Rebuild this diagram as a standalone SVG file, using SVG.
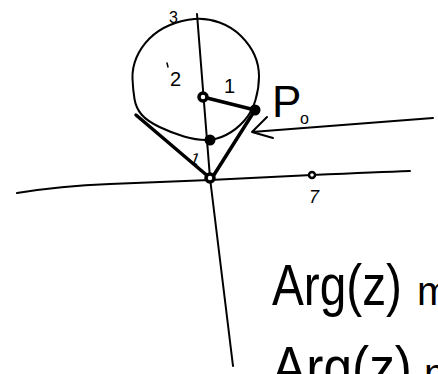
<svg xmlns="http://www.w3.org/2000/svg" width="438" height="374" viewBox="0 0 438 374">
<style>
.ln{fill:none;stroke:#000;stroke-width:2;stroke-linecap:round;stroke-linejoin:round}
.thk{fill:none;stroke:#000;stroke-width:3.5;stroke-linecap:round}
.t{font-family:"Liberation Sans",Arial,sans-serif;fill:#000}
.ring{fill:#fff;stroke:#000;stroke-width:3.5}
.dot{fill:#000}
</style>
<rect width="438" height="374" fill="#fff"/>
<g id="axes">
<path class="ln" d="M17,193 Q60,186 110,184 L210,180 L312,175 Q380,172 410,171"/>
<path class="ln" d="M197,14 L210,178 L233,366"/>
</g>
<g id="circle">
<path class="ln" d="M255.5,100 Q259,88 259,76.5 Q259,65 254.5,55 Q250,45 241,36 Q232,27 219.5,22.5 Q207,18 194.5,19 Q182,20 170,25 Q158,30 149.5,38.5 Q141,47 136.5,57.5 Q132,68 132.5,79 Q133,90 134.5,99 Q136,108 141.5,114.5 Q147,121 159.5,127 Q172,133 184,136.5 Q196,140 206,140 Q216,140 226,135 Q236,130 244,121 Q252,112 255.5,100 Z"/>
</g>
<g id="connectors">
<path class="thk" d="M203,97 L255,110"/>
<path class="thk" d="M136,115 L210,178"/>
<path class="thk" d="M255,110 L212,178"/>
<path class="ln" d="M433,118 L252,132 M267,117 L252,132 L273,138"/>
</g>
<g id="center"><circle class="ring" cx="203" cy="97" r="4"/></g>
<g id="lower"><circle class="dot" cx="210" cy="140" r="5.5"/></g>
<g id="p0"><circle class="dot" cx="255" cy="110" r="5.5"/></g>
<g id="origin"><circle class="ring" cx="210" cy="178" r="4"/></g>
<g id="pt7"><circle class="ring" cx="312" cy="175" r="3" style="stroke-width:2.5"/></g>
<g id="labels">
<text class="t" x="169" y="23" font-size="16">3</text>
<path class="ln" d="M167,63 L168,67" style="stroke-width:1.5"/>
<text class="t" x="170" y="86" font-size="20">2</text>
<text class="t" x="224" y="93" font-size="20">1</text>
<text class="t" x="191" y="164" font-size="16" transform="rotate(20 195 158)">1</text>
<text class="t" x="309" y="203" font-size="18" font-style="italic">7</text>
<text class="t" x="272" y="117" font-size="44">P</text>
<text class="t" x="300" y="124" font-size="16">o</text>
<text class="t" x="272" y="305" font-size="58" textLength="130" lengthAdjust="spacingAndGlyphs">Arg(z)</text>
<text class="t" x="417" y="305" font-size="40">m</text>
<text class="t" x="272" y="387" font-size="58" textLength="140" lengthAdjust="spacingAndGlyphs">Arg(z)</text>
<text class="t" x="424" y="387" font-size="40">m</text>
</g>
</svg>
